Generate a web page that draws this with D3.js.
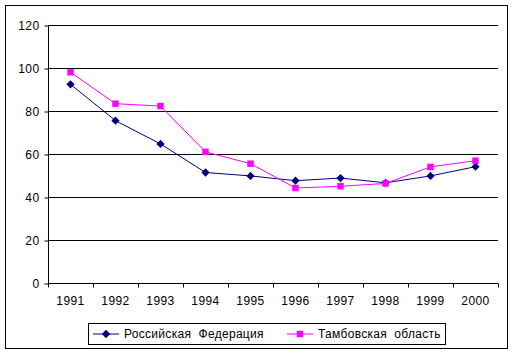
<!DOCTYPE html>
<html>
<head>
<meta charset="utf-8">
<script src="https://cdn.jsdelivr.net/npm/d3@7"></script>
<style>
  body { margin: 0; background: #fff; }
  text { font-family: "Liberation Sans", Arial, sans-serif; font-size: 12px; fill: #000; }
</style>
</head>
<body>
<div id="chart"></div>
<script>
// Data
var years = ["1991", "1992", "1993", "1994", "1995", "1996", "1997", "1998", "1999", "2000"]
var russia = [92.4, 75.5, 64.7, 51.4, 49.8, 47.6, 48.8, 46.6, 49.8, 54.1]
var tambov = [98, 83.4, 82.3, 61, 55.5, 44.2, 45, 46.3, 54, 56.9]
var yTicks = [0, 20, 40, 60, 80, 100, 120]
var seriesNames = ["Российская  Федерация", "Тамбовская  область"]

var width = 514, height = 354
var plot = { left: 48, right: 498, top: 25, bottom: 283 }

var svg = d3.select("#chart")
  .append("svg")
    .attr("width", width)
    .attr("height", height)

// Outer border
svg.append("rect")
    .attr("x", 5.5).attr("y", 5.5)
    .attr("width", 502).attr("height", 343)
    .attr("fill", "#fff")
    .attr("stroke", "#000")

var x = d3.scaleBand()
    .domain(years)
    .range([plot.left, plot.right])

var y = d3.scaleLinear()
    .domain([0, 120])
    .range([plot.bottom, plot.top])

// Gridlines
svg.append("g")
  .selectAll("line")
  .data(yTicks.filter(function(d) { return d > 0 }))
  .join("line")
    .attr("x1", plot.left)
    .attr("x2", plot.right)
    .attr("y1", function(d) { return Math.round(y(d)) + 0.5 })
    .attr("y2", function(d) { return Math.round(y(d)) + 0.5 })
    .attr("stroke", "#000")

// Y axis
var yAxis = d3.axisLeft(y).tickValues(yTicks).tickSize(4).tickPadding(5)
svg.append("g")
    .attr("transform", "translate(" + (plot.left + 0.5) + ",0.5)")
    .call(yAxis)
    .call(function(g) { g.select(".domain").attr("d", "M0," + plot.top + "V" + plot.bottom) })
    .call(function(g) {
      g.selectAll("text").style("font-size", "12px").style("letter-spacing", "0.4px").attr("dy", "0.36em")
    })

// X axis
var xAxis = d3.axisBottom(x).tickSize(0).tickPadding(13)
var gx = svg.append("g")
    .attr("transform", "translate(0," + (Math.round(plot.bottom) + 0.5) + ")")
    .call(xAxis)
gx.select(".domain").attr("d", "M" + plot.left + ",0H" + plot.right)
gx.selectAll("text").style("font-size", "12px").style("letter-spacing", "0.4px")
gx.selectAll(".sep")
  .data(years.concat(["end"]))
  .join("line")
    .attr("class", "sep")
    .attr("x1", function(d, i) { return Math.round(plot.left + i * x.step()) + 0.5 })
    .attr("x2", function(d, i) { return Math.round(plot.left + i * x.step()) + 0.5 })
    .attr("y1", 0).attr("y2", 4)
    .attr("stroke", "#000")

var cx = function(d, i) { return x(years[i]) + x.bandwidth() / 2 }

var line = d3.line()
    .x(cx)
    .y(function(d) { return y(d) })

var colors = ["#000080", "#ff00ff"]
var diamond = d3.symbol().type(d3.symbolDiamond2).size(44)
var square = d3.symbol().type(d3.symbolSquare).size(42)

function drawSeries(data, color, sym) {
  svg.append("path")
      .datum(data)
      .attr("fill", "none")
      .attr("stroke", color)
      .attr("stroke-width", 1)
      .attr("d", line)
  svg.append("g")
    .selectAll("path")
    .data(data)
    .join("path")
      .attr("d", sym)
      .attr("fill", color)
      .attr("transform", function(d, i) { return "translate(" + cx(d, i) + "," + y(d) + ")" })
}

drawSeries(russia, colors[0], diamond)
drawSeries(tambov, colors[1], square)

// Legend
var legend = svg.append("g")
legend.append("rect")
    .attr("x", 88.5).attr("y", 323.5)
    .attr("width", 357).attr("height", 21)
    .attr("fill", "#fff")
    .attr("stroke", "#000")

var legendItems = [
  { name: seriesNames[0], color: colors[0], sym: diamond, x0: 93 },
  { name: seriesNames[1], color: colors[1], sym: square, x0: 287 }
]
legendItems.forEach(function(d) {
  legend.append("line")
      .attr("x1", d.x0).attr("x2", d.x0 + 26)
      .attr("y1", 334).attr("y2", 334)
      .attr("stroke", d.color)
  legend.append("path")
      .attr("d", d.sym)
      .attr("fill", d.color)
      .attr("transform", "translate(" + (d.x0 + 13) + ",334)")
  legend.append("text")
      .attr("x", d.x0 + 31)
      .attr("y", 338)
      .style("letter-spacing", "0.3px")
      .style("white-space", "pre")
      .text(d.name)
})
</script>
</body>
</html>
